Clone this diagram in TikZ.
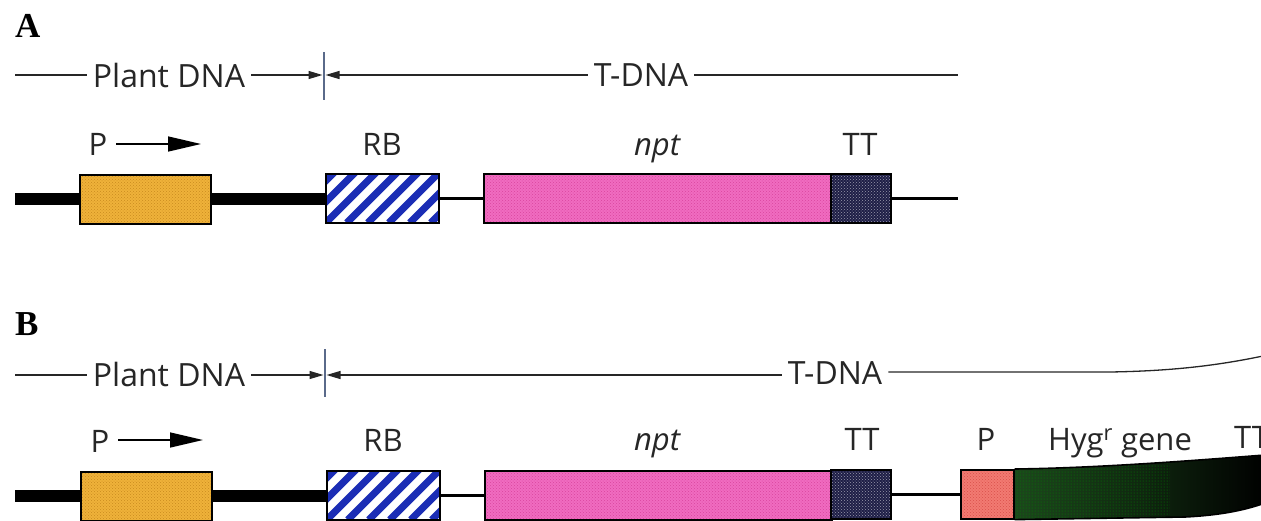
\documentclass[tikz,border=0pt]{standalone}
\usepackage{fontspec}
\setmainfont{Open Sans}
\newfontfamily\panelfont{Liberation Serif}
\usetikzlibrary{arrows.meta,patterns}
\definecolor{orangeC}{HTML}{EFB23A}
\definecolor{orangeD}{HTML}{C98A1E}
\definecolor{pinkC}{HTML}{F06CC0}
\definecolor{pinkD}{HTML}{D9449F}
\definecolor{salmonC}{HTML}{F27A72}
\definecolor{salmonD}{HTML}{D9504A}
\definecolor{navyC}{HTML}{1E1E46}
\definecolor{stripeC}{HTML}{1B2DB5}
\definecolor{hygG}{HTML}{1C471C}
\definecolor{tickC}{HTML}{5A6A8A}
\begin{document}
\begin{tikzpicture}[x=1pt,y=-1pt,
  hdr/.style={font=\fontsize{32}{32}\selectfont, inner xsep=6pt, inner ysep=0pt, anchor=base, text=black!85},
  lbl/.style={font=\fontsize{31}{31}\selectfont, inner sep=0pt, anchor=base, text=black!85},
  panel/.style={font=\panelfont\bfseries\fontsize{35}{35}\selectfont, inner sep=0pt, anchor=base west},
  gbox/.style={draw=black, line width=1.6pt, inner sep=0pt, minimum height=49pt, anchor=north west},
  hline/.style={line width=1.3pt, black!85},
  harrow/.style={hline, -{Triangle[length=14pt,width=8pt]}},
  parrow/.style={line width=1.5pt, -{Triangle[length=33pt,width=15pt]}},
  thickdna/.style={line width=12pt},
  thindna/.style={line width=2.4pt},
  tickline/.style={line width=1.3pt, tickC},
  orangebox/.style={gbox, preaction={fill=orangeC}, pattern=crosshatch dots, pattern color=orangeD},
  pinkbox/.style={gbox, preaction={fill=pinkC}, pattern=crosshatch dots, pattern color=pinkD},
  salmonbox/.style={gbox, preaction={fill=salmonC}, pattern=crosshatch dots, pattern color=salmonD},
  ttbox/.style={gbox, preaction={fill=navyC}, pattern=crosshatch dots, pattern color=white!55!navyC},
  rbbox/.style={gbox, fill=white, path picture={
      \foreach \i in {-8,...,8}
        \draw[stripeC, line width=7pt]
          ([xshift=\i*21pt]path picture bounding box.south west) -- ++(80,-80);}}
]
\clip (0,0) rectangle (1261,520);
\useasboundingbox (0,0) rectangle (1261,520);

% ================= Panel A =================
\node[panel] (labA) at (15,37) {A};

% header
\coordinate (hA0) at (15,75);
\coordinate (bA) at (324,75);
\coordinate (tAt) at (324,52);
\coordinate (tAb) at (324,100);
\coordinate (hA1) at (958,75);
\node[hdr] (pdA) at (169,87) {Plant DNA};
\node[hdr] (tdA) at (641,86) {T-DNA};
\draw[hline] (hA0) -- (hA0 -| pdA.west);
\draw[harrow] (pdA.east |- bA) -- ([xshift=-1.5pt]bA);
\draw[harrow] (tdA.west |- bA) -- ([xshift=1.5pt]bA);
\draw[hline] (tdA.east |- bA) -- (hA1);
\draw[tickline] (tAt) -- (tAb);

% labels
\node[lbl] (PlA) at (98,155) {P};
\coordinate (arA0) at (116,144);
\coordinate (arA1) at (201,144);
\draw[parrow] (arA0) -- (arA1);
\node[lbl] (RBlA) at (382,155) {RB};
\node[lbl] (nptlA) at (657,155) {\itshape npt};
\node[lbl] (TTlA) at (860,155) {TT};

% DNA row
\node[orangebox, minimum width=131pt] (pA) at (79,174) {};
\node[rbbox, minimum width=113pt] (rbA) at (325,173) {};
\node[pinkbox, minimum width=347pt] (nptA) at (483,173) {};
\node[ttbox, minimum width=60pt] (ttA) at (830,173) {};
\coordinate (sA) at (15,199);
\coordinate (eA) at (958,197);
\draw[thickdna] (sA) -- (sA -| pA.west);
\draw[thickdna] (pA.east |- sA) -- (rbA.west |- sA);
\draw[thindna] (rbA.east) -- (nptA.west);
\draw[thindna] (ttA.east) -- (ttA.east -| eA);

% ================= Panel B =================
\node[panel] (labB) at (15,335) {B};

% header
\coordinate (hB0) at (15,375);
\coordinate (bB) at (325,375);
\coordinate (tBt) at (325,349);
\coordinate (tBb) at (325,397);
\coordinate (hB1) at (1110,372);
\coordinate (hB2) at (1263,356);
\node[hdr] (pdB) at (169,386) {Plant DNA};
\node[hdr] (tdB) at (835,384) {T-DNA};
\draw[hline] (hB0) -- (hB0 -| pdB.west);
\draw[harrow] (pdB.east |- bB) -- ([xshift=-1.5pt]bB);
\draw[harrow] (tdB.west |- bB) -- ([xshift=1.5pt]bB);
\draw[hline] (tdB.east |- hB1) -- (hB1) .. controls (1170,371) and (1215,366) .. (hB2);
\draw[tickline] (tBt) -- (tBb);

% labels
\node[lbl] (PlB) at (100,452) {P};
\coordinate (arB0) at (118,440);
\coordinate (arB1) at (203,440);
\draw[parrow] (arB0) -- (arB1);
\node[lbl] (RBlB) at (383,451) {RB};
\node[lbl] (nptlB) at (657,450) {\itshape npt};
\node[lbl] (TTlB) at (862,450) {TT};
\node[lbl] (PlB2) at (986,450) {P};
\node[lbl, anchor=base west] (hyglB) at (1048,450) {Hyg\textsuperscript{r} gene};
\node[lbl, anchor=base west] (TTlB2) at (1234,448) {TT};

% DNA row
\node[orangebox, minimum width=131pt] (pB) at (80,471) {};
\node[rbbox, minimum width=113pt] (rbB) at (326,470) {};
\node[pinkbox, minimum width=347pt] (nptB) at (484,470) {};
\node[ttbox, minimum width=60pt] (ttB) at (830,469) {};
\node[salmonbox, minimum width=53pt] (pB2) at (960,469) {};
\coordinate (sB) at (15,496);
\draw[thickdna] (sB) -- (sB -| pB.west);
\draw[thickdna] (pB.east |- sB) -- (rbB.west |- sB);
\draw[thindna] (rbB.east) -- (nptB.west);
\draw[thindna] (ttB.east) -- (pB2.west);

% Hyg gene band, curving upward to the right
\path[left color=hygG, right color=black, middle color=hygG!55!black]
  (pB2.north east) -- (pB2.south east) -- (1185,517)
  .. controls (1225,515) and (1248,509) .. (1265,503) -- (1265,455)
  .. controls (1200,460) and (1100,468) .. (pB2.north east) -- cycle;
\path[pattern=dots, pattern color=green!55!black]
  (pB2.north east) -- (pB2.south east) -- (1170,517)
  -- (1170,463) .. controls (1100,467) and (1060,469) .. (pB2.north east) -- cycle;
\draw[line width=1.6pt]
  (pB2.south east) -- (1185,517) .. controls (1225,515) and (1248,509) .. (1265,503);
\draw[line width=1.6pt]
  (pB2.north east) .. controls (1100,468) and (1200,460) .. (1265,455);
\node[salmonbox, minimum width=53pt] (pB2top) at (960,469) {};
\end{tikzpicture}
\end{document}
